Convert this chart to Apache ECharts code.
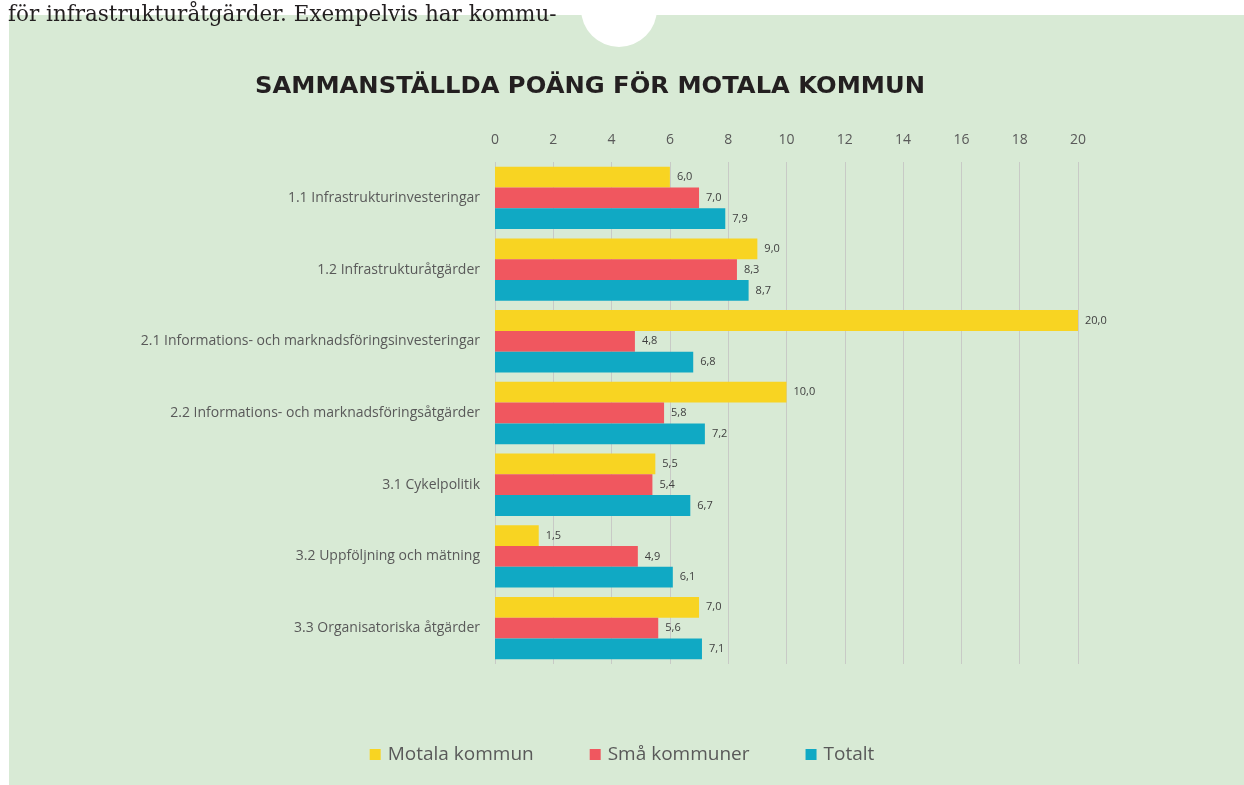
<!DOCTYPE html>
<html>
<head>
<meta charset="utf-8">
<script src="https://cdn.jsdelivr.net/npm/echarts@6/dist/echarts.min.js"></script>
<style>
    html, body { margin: 0; padding: 0; background: #fff; }
    #chart { width: 1244px; height: 785px; }
</style>
</head>
<body>
<div id="chart"></div>
<script>
    /* ---------- data ---------- */
    var categories = [
        '1.1 Infrastrukturinvesteringar',
        '1.2 Infrastrukturåtgärder',
        '2.1 Informations- och marknadsföringsinvesteringar',
        '2.2 Informations- och marknadsföringsåtgärder',
        '3.1 Cykelpolitik',
        '3.2 Uppföljning och mätning',
        '3.3 Organisatoriska åtgärder'
    ];
    var motala = [6.0, 9.0, 20.0, 10.0, 5.5, 1.5, 7.0];
    var smaKommuner = [7.0, 8.3, 4.8, 5.8, 5.4, 4.9, 5.6];
    var totalt = [7.9, 8.7, 6.8, 7.2, 6.7, 6.1, 7.1];
    var seriesNames = ['Motala kommun', 'Små kommuner', 'Totalt'];
    var colors = ['#f8d422', '#f0575f', '#10a9c4'];

    var chart = echarts.init(document.getElementById('chart'));

    function fmt(p) {
        return p.value.toFixed(1).replace('.', ',');
    }

    function makeSeries(name, data, color) {
        return {
            name: name,
            type: 'bar',
            data: data,
            barGap: '0%',
            barCategoryGap: '13%',
            itemStyle: { color: color },
            label: {
                show: true,
                position: 'right',
                distance: 7,
                formatter: fmt,
                fontFamily: 'Open Sans',
                fontSize: 11,
                color: '#404040'
            }
        };
    }

    var option = {
        backgroundColor: '#d8ead5',
        animation: false,
        graphic: [
            { type: 'rect', shape: { x: 0, y: 0, width: 1244, height: 15 }, style: { fill: '#fff' } },
            { type: 'rect', shape: { x: 0, y: 0, width: 9, height: 785 }, style: { fill: '#fff' } },
            { type: 'circle', shape: { cx: 619, cy: 9, r: 38 }, style: { fill: '#fff' } },
            {
                type: 'text', left: 8, top: 4,
                style: {
                    text: 'för infrastrukturåtgärder. Exempelvis har kommu-',
                    fontFamily: 'DejaVu Serif', fontSize: 21.5, fill: '#231f20'
                }
            },
            {
                type: 'text', x: 590, y: 87, scaleX: 1.055,
                style: {
                    text: 'SAMMANSTÄLLDA POÄNG FÖR MOTALA KOMMUN',
                    fontFamily: 'DejaVu Sans', fontWeight: 'bold', fontSize: 23,
                    fill: '#231f20', align: 'center', verticalAlign: 'middle'
                }
            }
        ],
        legend: {
            bottom: 16,
            left: 'center',
            icon: 'rect',
            itemWidth: 11,
            itemHeight: 11,
            itemGap: 56,
            textStyle: { fontFamily: 'Open Sans', fontSize: 19, color: '#595959', padding: [0, 0, 0, 2] },
            data: seriesNames
        },
        grid: {
            left: 495,
            right: 166,
            top: 162,
            bottom: 121
        },
        xAxis: {
            type: 'value',
            position: 'top',
            min: 0,
            max: 20,
            interval: 2,
            axisLine: { show: false },
            axisTick: { show: false },
            axisLabel: { fontFamily: 'Open Sans', fontSize: 14, color: '#595959', margin: 15 },
            splitLine: { lineStyle: { color: '#c8cac6', width: 1 } }
        },
        yAxis: {
            type: 'category',
            inverse: true,
            data: categories,
            axisLine: { show: false },
            axisTick: { show: false },
            axisLabel: { fontFamily: 'Open Sans', fontSize: 14, color: '#595959', margin: 15 }
        },
        series: [
            makeSeries(seriesNames[0], motala, colors[0]),
            makeSeries(seriesNames[1], smaKommuner, colors[1]),
            makeSeries(seriesNames[2], totalt, colors[2])
        ]
    };

    chart.setOption(option);
</script>
</body>
</html>
